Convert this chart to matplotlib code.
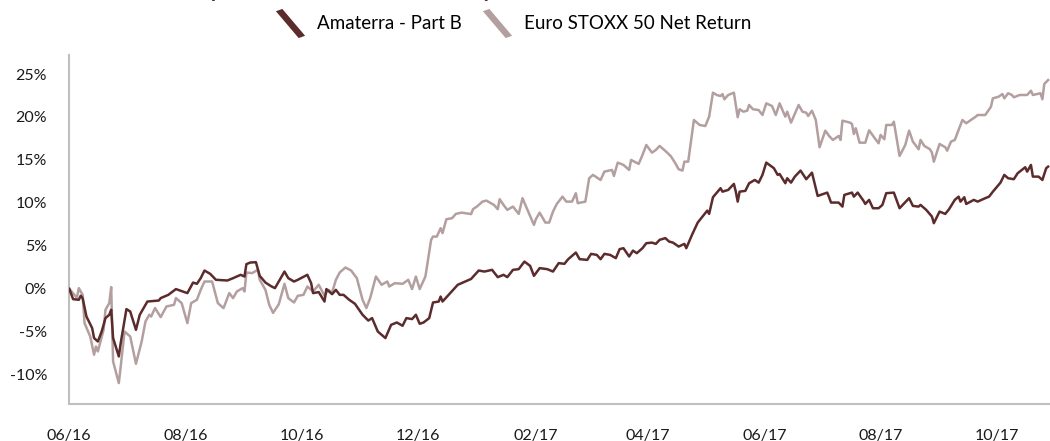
import matplotlib
matplotlib.use("Agg")
import matplotlib.pyplot as plt
from matplotlib.lines import Line2D
from matplotlib.path import Path
import pandas as pd

plt.rcParams["font.family"] = ["Lato", "DejaVu Sans"]

start = pd.Timestamp("2016-06-01")
tick_labels = ["06/16", "08/16", "10/16", "12/16", "02/17", "04/17", "06/17", "08/17", "10/17"]
tick_dates = ["2016-06-01", "2016-08-01", "2016-10-01", "2016-12-01", "2017-02-01",
              "2017-04-01", "2017-06-01", "2017-08-01", "2017-10-01"]

# Amaterra - Part B, cumulative return in %, days since 2016-06-01
fund_days = [0, 2, 5, 6, 7, 9, 12, 13, 15, 17, 19, 21, 22, 23, 26, 27, 30, 32, 35, 37,
             41, 47, 48, 52, 56, 62, 65, 67, 69, 71, 74, 77, 83, 86, 90, 92, 93, 95, 98, 100,
             103, 106, 108, 110, 113, 115, 118, 120, 125, 127, 128, 131, 134, 135, 138, 140, 142, 144, 147, 150,
             154, 157, 159, 162, 166, 169, 172, 175, 177, 180, 182, 184, 186, 189, 191, 194, 195, 196, 200, 204,
             211, 215, 218, 222, 225, 228, 230, 233, 236, 239, 242, 244, 247, 251, 254, 257, 260, 262, 266, 268,
             272, 274, 277, 279, 281, 284, 287, 289, 291, 294, 296, 298, 301, 303, 306, 308, 310, 313, 315, 317,
             320, 323, 324, 327, 330, 335, 336, 338, 342, 343, 346, 349, 350, 351, 352, 355, 357, 360, 362, 364,
             366, 370, 372, 373, 376, 377, 379, 381, 384, 387, 390, 393, 396, 398, 399, 400, 404, 406, 407, 411,
             412, 414, 417, 418, 420, 422, 425, 427, 429, 433, 436, 441, 443, 446, 447, 450, 453, 454, 457, 460,
             462, 465, 467, 468, 470, 471, 475, 477, 481, 483, 485, 489, 491, 493, 496, 498, 502, 503, 505, 506,
             509, 511, 513, 514]
fund_values = [0.0, -1.20, -1.28, -0.81, -1.08, -3.22, -4.57, -5.73, -6.13, -4.97, -3.41, -3.02, -2.44, -5.73, -7.87, -6.31, -2.36, -2.64, -4.77, -3.02,
               -1.48, -1.36, -1.08, -0.70, -0.03, -0.50, 0.73, 0.58, 1.24, 2.13, 1.74, 1.05, 0.97, 1.24, 1.63, 1.43, 2.87, 3.06, 3.10, 1.51,
               0.73, 0.30, 0.08, 0.85, 2.01, 1.24, 0.85, 1.05, 1.63, 0.66, -0.50, -0.38, -1.48, -0.03, -0.62, -0.12, -0.70, -0.70, -1.28, -1.74,
               -3.02, -3.69, -3.41, -4.97, -5.73, -4.19, -3.92, -4.30, -3.41, -3.52, -3.02, -4.07, -3.92, -3.41, -1.59, -1.48, -0.90, -1.48, -0.50, 0.47,
               1.15, 2.13, 2.01, 2.21, 1.36, 1.63, 1.36, 2.21, 2.29, 3.17, 2.67, 1.51, 2.41, 2.29, 2.01, 2.99, 2.91, 3.45, 4.22, 3.45,
               3.37, 4.07, 3.95, 3.45, 4.07, 3.95, 3.57, 4.62, 4.73, 3.76, 4.45, 4.15, 4.73, 5.31, 5.38, 5.23, 5.70, 5.90, 5.50, 5.38,
               4.92, 5.23, 4.73, 6.28, 7.71, 9.10, 8.72, 10.66, 11.71, 11.31, 11.51, 12.21, 11.31, 10.15, 11.31, 11.40, 12.29, 12.67, 12.36, 13.26,
               14.69, 14.04, 13.26, 13.37, 12.29, 12.87, 12.36, 13.06, 13.76, 12.76, 13.52, 10.81, 11.05, 11.20, 10.66, 10.04, 10.04, 9.57, 10.93, 11.20,
               10.73, 11.20, 10.27, 9.88, 10.35, 9.38, 9.38, 9.77, 11.13, 11.20, 9.38, 10.55, 9.65, 9.57, 9.77, 9.19, 8.41, 7.64, 8.99, 8.72,
               9.27, 10.35, 10.73, 10.15, 10.66, 9.88, 10.35, 10.15, 10.55, 10.73, 11.31, 12.36, 13.26, 12.87, 12.76, 13.45, 14.15, 13.64, 14.42, 13.06,
               13.06, 12.67, 14.04, 14.22]

# Euro STOXX 50 Net Return, cumulative return in %, days since 2016-06-01
index_days = [0, 4, 5, 7, 8, 11, 13, 14, 15, 18, 19, 21, 22, 23, 26, 27, 29, 32, 35, 38,
              40, 42, 43, 45, 48, 51, 55, 56, 59, 62, 64, 67, 69, 71, 75, 78, 80, 81, 84, 86,
              88, 91, 92, 93, 96, 99, 100, 103, 105, 107, 110, 113, 115, 118, 120, 123, 125, 128, 131, 134,
              136, 138, 140, 142, 145, 148, 151, 154, 156, 158, 161, 164, 167, 168, 171, 175, 178, 180, 182, 184,
              187, 190, 191, 193, 195, 196, 198, 201, 203, 206, 211, 212, 214, 217, 219, 223, 225, 226, 228, 230,
              233, 236, 238, 240, 244, 245, 247, 250, 252, 254, 256, 259, 261, 264, 266, 267, 271, 273, 275, 279,
              281, 285, 286, 288, 291, 294, 295, 299, 301, 303, 306, 308, 310, 314, 316, 318, 320, 322, 323, 325,
              328, 331, 334, 336, 338, 340, 342, 343, 344, 346, 349, 351, 352, 354, 356, 357, 359, 362, 364, 366,
              369, 371, 373, 376, 377, 379, 382, 383, 385, 387, 388, 390, 392, 394, 397, 399, 401, 404, 405, 406,
              410, 411, 412, 413, 415, 418, 420, 423, 425, 426, 428, 429, 432, 433, 436, 439, 441, 443, 446, 447,
              449, 452, 453, 454, 457, 460, 461, 463, 465, 469, 471, 474, 476, 477, 481, 484, 485, 488, 490, 491,
              493, 495, 496, 499, 503, 505, 506, 510, 511, 512, 514]
index_values = [0.0, -1.05, 0.08, -0.70, -3.99, -5.55, -7.67, -6.71, -7.29, -4.77, -2.44, -1.66, 0.20, -8.45, -10.97, -9.04, -4.97, -5.55, -8.72, -6.13,
                -3.80, -3.02, -3.22, -2.24, -3.29, -2.06, -1.86, -1.08, -1.66, -3.99, -1.66, -1.28, -0.12, 0.85, 0.85, -1.66, -2.06, -2.24, -0.50, -1.08,
                -0.31, 0.08, -0.31, 1.90, 1.83, 2.21, 1.05, -0.12, -1.86, -2.80, -1.80, 0.58, -1.08, -1.59, -0.81, -0.70, 0.27, -0.31, 0.47, -0.81,
                -0.12, -0.43, 1.05, 1.90, 2.48, 2.13, 1.24, -1.28, -2.24, -1.08, 1.43, 0.47, 0.85, 0.27, 0.66, 0.58, 1.05, -0.03, 1.43, -0.03,
                1.43, 5.70, 6.08, 6.08, 7.06, 6.48, 8.10, 8.22, 8.72, 8.87, 8.70, 9.27, 9.57, 10.15, 10.27, 9.77, 9.27, 10.43, 9.77, 9.19,
                9.57, 8.72, 10.55, 9.50, 7.44, 8.10, 8.87, 7.71, 7.71, 8.99, 9.88, 10.73, 10.15, 10.15, 11.13, 9.97, 10.15, 12.87, 13.26, 12.67,
                13.64, 13.84, 13.14, 14.69, 14.42, 13.84, 15.00, 14.54, 15.58, 16.74, 15.85, 16.16, 16.63, 15.85, 15.40, 14.70, 13.92, 13.76, 14.80, 14.80,
                19.65, 19.07, 18.95, 20.04, 22.83, 22.56, 22.44, 22.67, 22.06, 22.56, 22.83, 19.97, 20.90, 20.62, 20.73, 21.40, 20.90, 20.81, 20.23, 21.59,
                21.28, 20.23, 21.59, 20.04, 20.62, 19.34, 20.90, 21.40, 20.62, 20.50, 20.12, 20.73, 19.65, 16.48, 18.41, 17.79, 17.33, 17.79, 17.33, 19.57,
                19.34, 19.19, 18.02, 18.69, 17.01, 17.01, 18.45, 17.52, 16.94, 17.91, 17.41, 19.07, 19.07, 19.45, 15.47, 16.74, 18.41, 17.13, 16.24, 17.33,
                16.63, 16.24, 15.85, 14.80, 16.86, 16.48, 16.08, 17.13, 17.33, 19.65, 19.27, 19.73, 20.04, 20.23, 20.23, 21.20, 22.17, 22.36, 22.67, 22.17,
                22.76, 22.56, 22.29, 22.56, 22.56, 23.06, 22.56, 22.76, 22.06, 23.84, 24.30]

fund_color = "#5c2b2b"
index_color = "#b39f9f"

fund_dates = start + pd.to_timedelta(fund_days, unit="D")
index_dates = start + pd.to_timedelta(index_days, unit="D")

fig = plt.figure(figsize=(10.5, 4.41), dpi=100)
ax = fig.add_axes([0.066, 0.084, 0.934, 0.791])

ax.plot(index_dates, index_values, color=index_color, lw=1.8, zorder=2)
ax.plot(fund_dates, fund_values, color=fund_color, lw=1.8, zorder=3)

ax.set_xlim(start, start + pd.Timedelta(days=515))
ax.set_ylim(-13.4, 27.2)
ax.set_yticks([-10, -5, 0, 5, 10, 15, 20, 25])
ax.set_yticklabels(["-10%", "-5%", "0%", "5%", "10%", "15%", "20%", "25%"])
ax.set_xticks(pd.to_datetime(tick_dates))
ax.set_xticklabels(tick_labels)
ax.tick_params(axis="both", length=0, labelsize=11.5, colors="#1a1a1a")
ax.tick_params(axis="y", pad=16)
ax.tick_params(axis="x", pad=18)

for side in ["top", "right"]:
    ax.spines[side].set_visible(False)
for side in ["left", "bottom"]:
    ax.spines[side].set_color("#bfbfbf")
    ax.spines[side].set_linewidth(1.5)

# slanted bar used as legend key
slash = Path([(-0.5, 0.42), (-0.28, 0.5), (0.5, -0.42), (0.28, -0.5), (-0.5, 0.42)],
             [Path.MOVETO, Path.LINETO, Path.LINETO, Path.LINETO, Path.CLOSEPOLY])
handles = [Line2D([], [], ls="none", marker=slash, markersize=21, color=fund_color, markeredgewidth=0),
           Line2D([], [], ls="none", marker=slash, markersize=21, color=index_color, markeredgewidth=0)]
fig.legend(handles, ["Amaterra - Part B", "Euro STOXX 50 Net Return"], loc="center",
           bbox_to_anchor=(0.49, 0.946), ncol=2, frameon=False, fontsize=13.5,
           handlelength=1.3, handletextpad=0.8, columnspacing=1.2)

# title sits mostly above the visible area, as in the source image
fig.text(0.095, 1.006, "Cumulative performance of the fund compared to its benchmark",
         fontsize=15, fontweight="bold", color=fund_color, ha="left", va="baseline")

fig.savefig("out.png", dpi=100)
